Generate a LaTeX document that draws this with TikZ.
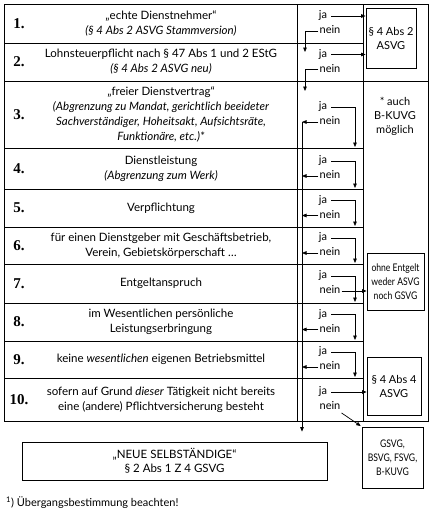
\documentclass[tikz,border=0pt]{standalone}
\usepackage{fontspec}
\setmainfont{Lato}
\newfontfamily\numfont{Liberation Serif}
\newfontfamily\narrowfont[FakeStretch=0.82]{Lato}
\usetikzlibrary{arrows.meta,calc}

\tikzset{
  rowNum/.style={font=\numfont\bfseries\fontsize{15}{15}\selectfont, inner sep=0pt},
  rowText/.style={font=\fontsize{11.5}{15}\selectfont, align=center, inner sep=0pt},
  jnLbl/.style={font=\fontsize{11}{11}\selectfont, inner sep=1pt,
                text height=7.5pt, text depth=2pt},
  resultBox/.style={draw, line width=0.8pt, align=center, inner sep=0pt,
                    font=\fontsize{11}{14}\selectfont},
  narrowBox/.style={resultBox, font=\narrowfont\fontsize{10.5}{14}\selectfont},
  tableRule/.style={line width=0.8pt},
  flow/.style={line width=0.7pt, -{Triangle[length=4.5pt,width=3.6pt]}},
}

\begin{document}
\begin{tikzpicture}[x=1pt,y=-1pt]
\useasboundingbox (0,0) rectangle (432,517);

% ========== TABLE ==========
\draw[tableRule] (4,4) rectangle (428,421);
\draw[tableRule] (297,4) -- (297,421);
\draw[tableRule] (363,4) -- (363,421);
\draw[tableRule] (4,81) -- (428,81);
\foreach \y in {43,148,189,227,264,303,341,378}
  \draw[tableRule] (4,\y) -- (363,\y);

% numbers, ja / nein
\foreach \c [count=\i] in {23.5,62,114.5,168.5,208,245.5,283.5,322,359.5,399.5} {
  \node[rowNum] (n\i) at (19,\c) {\i.};
  \node[jnLbl] (ja\i) at (323,\c-7.5) {ja};
  \node[jnLbl] (nein\i) at (330,\c+7.5) {nein};
}

% criteria
\node[rowText] (t1) at (161,23.5)
  {„echte Dienstnehmer“\\ \textit{(§ 4 Abs 2 ASVG Stammversion)}};
\node[rowText] (t2) at (161,62)
  {Lohnsteuerpflicht nach § 47 Abs 1 und 2 EStG\\ \textit{(§ 4 Abs 2 ASVG neu)}};
\node[rowText] (t3) at (161,114.5)
  {„freier Dienstvertrag“\\
   \textit{(Abgrenzung zu Mandat, gerichtlich beeideter}\\
   \textit{Sachverständiger, Hoheitsakt, Aufsichtsräte,}\\
   \textit{Funktionäre, etc.)*}};
\node[rowText] (t4) at (161,168.5)
  {Dienstleistung\\ \textit{(Abgrenzung zum Werk)}};
\node[rowText] (t5) at (161,208) {Verpflichtung};
\node[rowText] (t6) at (161,245.5)
  {für einen Dienstgeber mit Geschäftsbetrieb,\\ Verein, Gebietskörperschaft \dots};
\node[rowText] (t7) at (161,283.5) {Entgeltanspruch};
\node[rowText] (t8) at (161,322)
  {im Wesentlichen persönliche\\ Leistungserbringung};
\node[rowText] (t9) at (161,359.5)
  {keine \textit{wesentlichen} eigenen Betriebsmittel};
\node[rowText] (t10) at (161,399.5)
  {sofern auf Grund \textit{dieser} Tätigkeit nicht bereits\\
   eine (andere) Pflichtversicherung besteht};

% ========== RESULTS ==========
\node[resultBox, minimum width=50, minimum height=60] (abs2) at (391,38)
  {§ 4 Abs 2\\ ASVG};
\node[rowText, font=\fontsize{11}{14}\selectfont] (auch) at (395,116)
  {* auch\\ B-KUVG\\ möglich};
\node[narrowBox, minimum width=57, minimum height=57] (ohne) at (395.5,281.5)
  {ohne Entgelt\\ weder ASVG\\ noch GSVG};
\node[resultBox, minimum width=54, minimum height=58] (abs4) at (394,386)
  {§ 4 Abs 4\\ ASVG};
\node[narrowBox, minimum width=61, minimum height=61] (gsvg) at (392.5,457.5)
  {GSVG,\\ BSVG, FSVG,\\ B-KUVG};
\node[resultBox, font=\fontsize{11.5}{14}\selectfont, minimum width=305,
      minimum height=38] (neu) at (174.5,461)
  {„NEUE SELBSTÄNDIGE“\\ § 2 Abs 1 Z 4 GSVG};

\node[font=\fontsize{11}{12}\selectfont, anchor=west, inner sep=0pt] (fn) at (6,503)
  {\textsuperscript{1}) Übergangsbestimmung beachten!};

% ========== ARROWS ==========
% ja -> § 4 Abs 2
\foreach \i in {1,2}
  \draw[flow, shorten <=3pt] (ja\i.east) -- (ja\i.east -| abs2.west);

% nein -> next row (rows 1, 2)
\coordinate (d1) at (305,52);
\coordinate (d2) at (305,91);
\foreach \i in {1,2}
  \draw[flow] (nein\i.west) -| (d\i);

% ja -> next row (rows 3 to 9)
\foreach \i/\b in {3/148,4/189,5/227,6/264,7/303,8/341,9/378} {
  \coordinate (jd\i) at (355,\b-1);
  \draw[flow, shorten <=3pt] (ja\i.east) -| (jd\i);
}

% nein -> collecting line
\coordinate (vtop) at (302,122);
\draw[flow, shorten >=10pt] (vtop) -- (vtop |- neu.north);
\foreach \i in {3,4,5,6,8,9}
  \draw[flow] (nein\i.west) -- (nein\i.west -| vtop);

% row 7 and row 10
\draw[flow] (nein7.east) -- (nein7.east -| ohne.west);
\draw[flow, shorten <=3pt] (ja10.east) -- (ja10.east -| abs4.west);
\draw[flow, shorten >=1pt] (nein10.south east) -- (gsvg.north west);

\end{tikzpicture}
\end{document}
